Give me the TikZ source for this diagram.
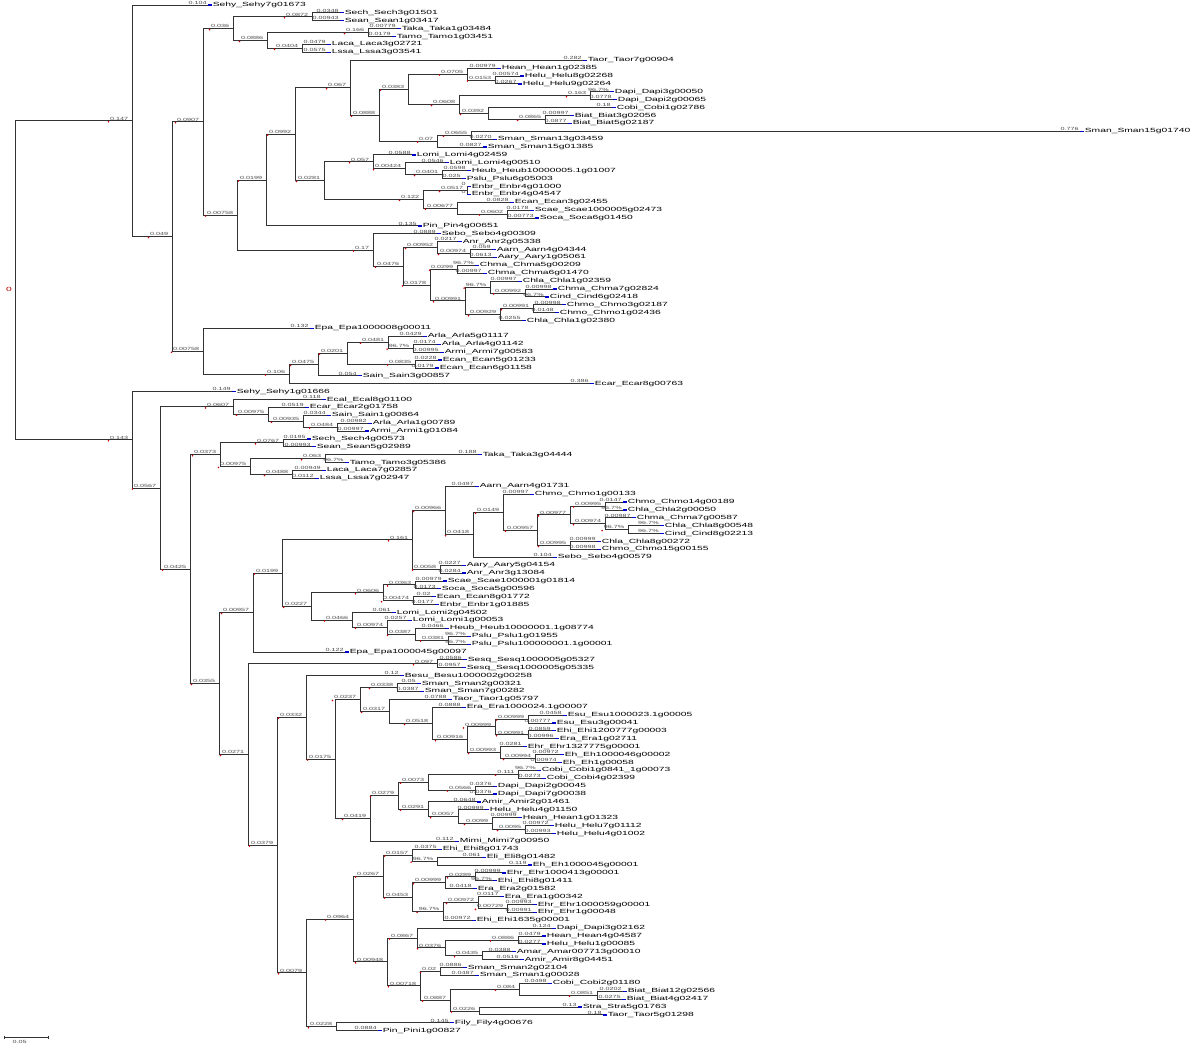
\documentclass[tikz,border=0pt]{standalone}
\usepackage{fontspec}
\newfontfamily\lff[FakeStretch=1.72]{Liberation Sans}
\newfontfamily\bff[FakeStretch=1.6]{Liberation Sans}
\tikzset{
  br/.style={draw=black!80, line width=0.9pt},
  bx/.style={anchor=south east, inner sep=0.3pt, text=black!70, font=\bff\fontsize{4.5}{5}\selectfont},
  bl/.style={bx, xshift=-0.6pt},
  ib/.style={bx, xshift=-3pt, label={[rdot]south west:{}}},
  rdot/.style={circle, fill=red!80!black, inner sep=0pt, minimum size=1.8pt},
  leaf/.style={anchor=west, inner sep=0.6pt, font=\lff\fontsize{6}{6}\selectfont, label={[bmark]west:{}}},
  bmark/.style={rectangle, fill=blue!80!black, inner sep=0pt, minimum width=4pt, minimum height=1.2pt},
}
\begin{document}
\begin{tikzpicture}[x=1pt, y=-7.89pt]
\useasboundingbox (0,-0.634) rectangle (1200,132.19);
% inner nodes, upper clade
\coordinate (r) at (15,34.89);
\coordinate (u0) at (132,14.675);
\coordinate (u1) at (172,29.35);
\coordinate (u2) at (203,14.81);
\coordinate (u3) at (233,3);
\coordinate (u4) at (312,1.5);
\coordinate (u5) at (267,4.5);
\coordinate (u6) at (368,3.5);
\coordinate (u7) at (302,5.5);
\coordinate (u8) at (237,26.62);
\coordinate (u9) at (266,22.18);
\coordinate (u10) at (295,16.37);
\coordinate (u11) at (350,10.48);
\coordinate (u12) at (379,13.97);
\coordinate (u13) at (408,10.69);
\coordinate (u14) at (467,8.75);
\coordinate (u15) at (495,9.5);
\coordinate (u16) at (459,12.625);
\coordinate (u17) at (590,11.5);
\coordinate (u18) at (488,13.75);
\coordinate (u19) at (545,14.5);
\coordinate (u20) at (437,17.25);
\coordinate (u21) at (471,16.5);
\coordinate (u22) at (324,22.25);
\coordinate (u23) at (373,19.875);
\coordinate (u24) at (405,20.75);
\coordinate (u25) at (442,21.5);
\coordinate (u26) at (423,24.625);
\coordinate (u27) at (467,23.5);
\coordinate (u28) at (457,25.75);
\coordinate (u29) at (507,26.5);
\coordinate (u30) at (373,31.06);
\coordinate (u31) at (403,33.125);
\coordinate (u32) at (437,30.75);
\coordinate (u33) at (470,31.5);
\coordinate (u34) at (430,35.5);
\coordinate (u35) at (457,33.5);
\coordinate (u36) at (465,37.5);
\coordinate (u37) at (490,35.75);
\coordinate (u38) at (525,36.5);
\coordinate (u39) at (500,39.25);
\coordinate (u40) at (533,38.5);
\coordinate (u41) at (203,43.89);
\coordinate (u42) at (289,46.78);
\coordinate (u43) at (318,45.56);
\coordinate (u44) at (347,44.125);
\coordinate (u45) at (388,42.75);
\coordinate (u46) at (413,43.5);
\coordinate (u47) at (415,45.5);
% leaves, upper clade
\node[leaf] (a0) at (212,0) {Sehy\_Sehy7g01673};
\node[leaf] (a1) at (344,1) {Sech\_Sech3g01501};
\node[leaf] (a2) at (344,2) {Sean\_Sean1g03417};
\node[leaf] (a3) at (401,3) {Taka\_Taka1g03484};
\node[leaf] (a4) at (396,4) {Tamo\_Tamo1g03451};
\node[leaf] (a5) at (331,5) {Laca\_Laca3g02721};
\node[leaf] (a6) at (331,6) {Lssa\_Lssa3g03541};
\node[leaf] (a7) at (587,7) {Taor\_Taor7g00904};
\node[leaf] (a8) at (501,8) {Hean\_Hean1g02385};
\node[leaf] (a9) at (524,9) {Helu\_Helu8g02268};
\node[leaf] (a10) at (522,10) {Helu\_Helu9g02264};
\node[leaf] (a11) at (614,11) {Dapi\_Dapi3g00050};
\node[leaf] (a12) at (617,12) {Dapi\_Dapi2g00065};
\node[leaf] (a13) at (616,13) {Cobi\_Cobi1g02786};
\node[leaf] (a14) at (574,14) {Biat\_Biat3g02056};
\node[leaf] (a15) at (572,15) {Biat\_Biat5g02187};
\node[leaf] (a16) at (1084,16) {Sman\_Sman15g01740};
\node[leaf] (a17) at (497,17) {Sman\_Sman13g03459};
\node[leaf] (a18) at (487,18) {Sman\_Sman15g01385};
\node[leaf] (a19) at (416,19) {Lomi\_Lomi4g02459};
\node[leaf] (a20) at (449,20) {Lomi\_Lomi4g00510};
\node[leaf] (a21) at (471,21) {Heub\_Heub10000005.1g01007};
\node[leaf] (a22) at (466,22) {Pslu\_Pslu6g05003};
\node[leaf] (a23) at (471,23) {Enbr\_Enbr4g01000};
\node[leaf] (a24) at (471,24) {Enbr\_Enbr4g04547};
\node[leaf] (a25) at (514,25) {Ecan\_Ecan3g02455};
\node[leaf] (a26) at (534,26) {Scae\_Scae1000005g02473};
\node[leaf] (a27) at (539,27) {Soca\_Soca6g01450};
\node[leaf] (a28) at (422,28) {Pin\_Pin4g00651};
\node[leaf] (a29) at (441,29) {Sebo\_Sebo4g00309};
\node[leaf] (a30) at (462,30) {Anr\_Anr2g05338};
\node[leaf] (a31) at (496,31) {Aarn\_Aarn4g04344};
\node[leaf] (a32) at (497,32) {Aary\_Aary1g05061};
\node[leaf] (a33) at (479,33) {Chma\_Chma5g00209};
\node[leaf] (a34) at (487,34) {Chma\_Chma6g01470};
\node[leaf] (a35) at (522,35) {Chla\_Chla1g02359};
\node[leaf] (a36) at (557,36) {Chma\_Chma7g02824};
\node[leaf] (a37) at (549,37) {Cind\_Cind6g02418};
\node[leaf] (a38) at (566,38) {Chmo\_Chmo3g02187};
\node[leaf] (a39) at (559,39) {Chmo\_Chmo1g02436};
\node[leaf] (a40) at (526,40) {Chla\_Chla1g02380};
\node[leaf] (a41) at (314,41) {Epa\_Epa1000008g00011};
\node[leaf] (a42) at (427,42) {Arla\_Arla5g01117};
\node[leaf] (a43) at (441,43) {Arla\_Arla4g01142};
\node[leaf] (a44) at (444,44) {Armi\_Armi7g00583};
\node[leaf] (a45) at (442,45) {Ecan\_Ecan5g01233};
\node[leaf] (a46) at (439,46) {Ecan\_Ecan6g01158};
\node[leaf] (a47) at (362,47) {Sain\_Sain3g00857};
\node[leaf] (a48) at (594,48) {Ecar\_Ecar8g00763};
% branches, upper clade
\draw[br] (r) |- (u0) node[ib] {0.147};
\draw[br] (u0) |- ([xshift=-4pt]a0.west) node[bl] {0.104} (u0) |- (u1) node[ib] {0.049};
\draw[br] (u1) |- (u2) node[ib] {0.0907} (u1) |- (u41) node[ib] {0.00758};
\draw[br] (u2) |- (u3) node[ib] {0.036} (u2) |- (u8) node[ib] {0.00758};
\draw[br] (u3) |- (u4) node[ib] {0.0872} (u3) |- (u5) node[ib] {0.0886};
\draw[br] (u4) |- ([xshift=-4pt]a1.west) node[bl] {0.0348} (u4) |- ([xshift=-4pt]a2.west) node[bl] {0.00943};
\draw[br] (u5) |- (u6) node[ib] {0.166} (u5) |- (u7) node[ib] {0.0404};
\draw[br] (u6) |- ([xshift=-4pt]a3.west) node[bl] {0.00779} (u6) |- ([xshift=-4pt]a4.west) node[bl] {0.0179};
\draw[br] (u7) |- ([xshift=-4pt]a5.west) node[bl] {0.0479} (u7) |- ([xshift=-4pt]a6.west) node[bl] {0.0575};
\draw[br] (u8) |- (u9) node[ib] {0.0199} (u8) |- (u30) node[ib] {0.17};
\draw[br] (u9) |- (u10) node[ib] {0.0992} (u9) |- ([xshift=-4pt]a28.west) node[bl] {0.135};
\draw[br] (u10) |- (u11) node[ib] {0.067} (u10) |- (u22) node[ib] {0.0281};
\draw[br] (u11) |- ([xshift=-4pt]a7.west) node[bl] {0.282} (u11) |- (u12) node[ib] {0.0888};
\draw[br] (u12) |- (u13) node[ib] {0.0383} (u12) |- (u20) node[ib] {0.07};
\draw[br] (u13) |- (u14) node[ib] {0.0705} (u13) |- (u16) node[ib] {0.0608};
\draw[br] (u14) |- ([xshift=-4pt]a8.west) node[bl] {0.00979} (u14) |- (u15) node[ib] {0.0153};
\draw[br] (u15) |- ([xshift=-4pt]a9.west) node[bl] {0.00574} (u15) |- ([xshift=-4pt]a10.west) node[bl] {0.0267};
\draw[br] (u16) |- (u17) node[ib] {0.163} (u16) |- (u18) node[ib] {0.0392};
\draw[br] (u17) |- ([xshift=-4pt]a11.west) node[bl] {96.7\%} (u17) |- ([xshift=-4pt]a12.west) node[bl] {0.0778};
\draw[br] (u18) |- ([xshift=-4pt]a13.west) node[bl] {0.18} (u18) |- (u19) node[ib] {0.0865};
\draw[br] (u19) |- ([xshift=-4pt]a14.west) node[bl] {0.00997} (u19) |- ([xshift=-4pt]a15.west) node[bl] {0.0877};
\draw[br] (u20) |- (u21) node[ib] {0.0655} (u20) |- ([xshift=-4pt]a18.west) node[bl] {0.0827};
\draw[br] (u21) |- ([xshift=-4pt]a16.west) node[bl] {0.776} (u21) |- ([xshift=-4pt]a17.west) node[bl] {0.0270};
\draw[br] (u22) |- (u23) node[ib] {0.057} (u22) |- (u26) node[ib] {0.122};
\draw[br] (u23) |- ([xshift=-4pt]a19.west) node[bl] {0.0588} (u23) |- (u24) node[ib] {0.00424};
\draw[br] (u24) |- ([xshift=-4pt]a20.west) node[bl] {0.0546} (u24) |- (u25) node[ib] {0.0401};
\draw[br] (u25) |- ([xshift=-4pt]a21.west) node[bl] {0.0598} (u25) |- ([xshift=-4pt]a22.west) node[bl] {0.025};
\draw[br] (u26) |- (u27) node[ib] {0.0517} (u26) |- (u28) node[ib] {0.00677};
\draw[br] (u27) |- ([xshift=-4pt]a23.west) node[bl] {0} (u27) |- ([xshift=-4pt]a24.west) node[bl] {0};
\draw[br] (u28) |- ([xshift=-4pt]a25.west) node[bl] {0.0828} (u28) |- (u29) node[ib] {0.0602};
\draw[br] (u29) |- ([xshift=-4pt]a26.west) node[bl] {0.0178} (u29) |- ([xshift=-4pt]a27.west) node[bl] {0.00773};
\draw[br] (u30) |- ([xshift=-4pt]a29.west) node[bl] {0.0889} (u30) |- (u31) node[ib] {0.0476};
\draw[br] (u31) |- (u32) node[ib] {0.00952} (u31) |- (u34) node[ib] {0.0178};
\draw[br] (u32) |- ([xshift=-4pt]a30.west) node[bl] {0.0217} (u32) |- (u33) node[ib] {0.00974};
\draw[br] (u33) |- ([xshift=-4pt]a31.west) node[bl] {0.059} (u33) |- ([xshift=-4pt]a32.west) node[bl] {0.0613};
\draw[br] (u34) |- (u35) node[ib] {0.0299} (u34) |- (u36) node[ib] {0.00991};
\draw[br] (u35) |- ([xshift=-4pt]a33.west) node[bl] {96.7\%} (u35) |- ([xshift=-4pt]a34.west) node[bl] {0.00997};
\draw[br] (u36) |- (u37) node[ib] {96.7\%} (u36) |- (u39) node[ib] {0.00929};
\draw[br] (u37) |- ([xshift=-4pt]a35.west) node[bl] {0.00997} (u37) |- (u38) node[ib] {0.00992};
\draw[br] (u38) |- ([xshift=-4pt]a36.west) node[bl] {0.00998} (u38) |- ([xshift=-4pt]a37.west) node[bl] {96.7\%};
\draw[br] (u39) |- (u40) node[ib] {0.00991} (u39) |- ([xshift=-4pt]a40.west) node[bl] {0.0255};
\draw[br] (u40) |- ([xshift=-4pt]a38.west) node[bl] {0.00998} (u40) |- ([xshift=-4pt]a39.west) node[bl] {0.0148};
\draw[br] (u41) |- ([xshift=-4pt]a41.west) node[bl] {0.132} (u41) |- (u42) node[ib] {0.106};
\draw[br] (u42) |- (u43) node[ib] {0.0475} (u42) |- ([xshift=-4pt]a48.west) node[bl] {0.386};
\draw[br] (u43) |- (u44) node[ib] {0.0201} (u43) |- ([xshift=-4pt]a47.west) node[bl] {0.054};
\draw[br] (u44) |- (u45) node[ib] {0.0481} (u44) |- (u47) node[ib] {0.0835};
\draw[br] (u45) |- ([xshift=-4pt]a42.west) node[bl] {0.0429} (u45) |- (u46) node[ib] {96.7\%};
\draw[br] (u46) |- ([xshift=-4pt]a43.west) node[bl] {0.0174} (u46) |- ([xshift=-4pt]a44.west) node[bl] {0.00995};
\draw[br] (u47) |- ([xshift=-4pt]a45.west) node[bl] {0.0228} (u47) |- ([xshift=-4pt]a46.west) node[bl] {0.0179};
% inner nodes, lower clade
\coordinate (l0) at (132,55.11);
\coordinate (l1) at (160,61.22);
\coordinate (l2) at (233,50.94);
\coordinate (l3) at (268,51.875);
\coordinate (l4) at (303,52.75);
\coordinate (l5) at (337,53.5);
\coordinate (l6) at (190,71.5);
\coordinate (l7) at (220,57);
\coordinate (l8) at (283,55.5);
\coordinate (l9) at (250,58.5);
\coordinate (l10) at (325,57.5);
\coordinate (l11) at (292,59.5);
\coordinate (l12) at (219,86.0);
\coordinate (l13) at (253,77.0);
\coordinate (l14) at (282,72.0);
\coordinate (l15) at (412,67.79);
\coordinate (l16) at (445,64.07);
\coordinate (l17) at (473,67.14);
\coordinate (l18) at (503,64.28);
\coordinate (l19) at (537,66.56);
\coordinate (l20) at (570,64.625);
\coordinate (l21) at (605,63.5);
\coordinate (l22) at (605,65.75);
\coordinate (l23) at (628,66.5);
\coordinate (l24) at (570,68.5);
\coordinate (l25) at (440,71.5);
\coordinate (l26) at (311,76.22);
\coordinate (l27) at (383,74.5);
\coordinate (l28) at (415,73.5);
\coordinate (l29) at (413,75.5);
\coordinate (l30) at (352,77.94);
\coordinate (l31) at (387,78.875);
\coordinate (l32) at (415,79.75);
\coordinate (l33) at (448,80.5);
\coordinate (l34) at (248,94.99);
\coordinate (l35) at (437,83.5);
\coordinate (l36) at (277,106.48);
\coordinate (l37) at (306,90.28);
\coordinate (l38) at (335,95.56);
\coordinate (l39) at (360,88.02);
\coordinate (l40) at (397,86.5);
\coordinate (l41) at (389,89.53);
\coordinate (l42) at (432,91.06);
\coordinate (l43) at (467,93.125);
\coordinate (l44) at (495,91.5);
\coordinate (l45) at (528,90.5);
\coordinate (l46) at (528,92.5);
\coordinate (l47) at (500,94.75);
\coordinate (l48) at (535,95.5);
\coordinate (l49) at (370,103.11);
\coordinate (l50) at (398,100.22);
\coordinate (l51) at (428,98.5);
\coordinate (l52) at (518,97.5);
\coordinate (l53) at (475,99.5);
\coordinate (l54) at (428,101.94);
\coordinate (l55) at (458,102.875);
\coordinate (l56) at (492,103.75);
\coordinate (l57) at (525,104.5);
\coordinate (l58) at (306,122.67);
\coordinate (l59) at (353,115.85);
\coordinate (l60) at (383,110.41);
\coordinate (l61) at (412,107.75);
\coordinate (l62) at (437,108.5);
\coordinate (l63) at (412,113.06);
\coordinate (l64) at (445,111.25);
\coordinate (l65) at (475,110.5);
\coordinate (l66) at (443,114.875);
\coordinate (l67) at (478,113.75);
\coordinate (l68) at (507,114.5);
\coordinate (l69) at (387,121.28);
\coordinate (l70) at (417,118.25);
\coordinate (l71) at (445,119.5);
\coordinate (l72) at (518,118.5);
\coordinate (l73) at (482,120.5);
\coordinate (l74) at (420,124.31);
\coordinate (l75) at (440,122.5);
\coordinate (l76) at (450,126.125);
\coordinate (l77) at (519,124.75);
\coordinate (l78) at (597,125.5);
\coordinate (l79) at (479,127.5);
\coordinate (l80) at (336,129.5);
% leaves, lower clade
\node[leaf] (b49) at (236,49) {Sehy\_Sehy1g01666};
\node[leaf] (b50) at (326,50) {Ecal\_Ecal8g01100};
\node[leaf] (b51) at (309,51) {Ecar\_Ecar2g01758};
\node[leaf] (b52) at (331,52) {Sain\_Sain1g00864};
\node[leaf] (b53) at (372,53) {Arla\_Arla1g00789};
\node[leaf] (b54) at (369,54) {Armi\_Armi1g01084};
\node[leaf] (b55) at (311,55) {Sech\_Sech4g00573};
\node[leaf] (b56) at (316,56) {Sean\_Sean5g02989};
\node[leaf] (b57) at (482,57) {Taka\_Taka3g04444};
\node[leaf] (b58) at (349,58) {Tamo\_Tamo3g05386};
\node[leaf] (b59) at (326,59) {Laca\_Laca7g02857};
\node[leaf] (b60) at (319,60) {Lssa\_Lssa7g02947};
\node[leaf] (b61) at (479,61) {Aarn\_Aarn4g01731};
\node[leaf] (b62) at (534,62) {Chmo\_Chmo1g00133};
\node[leaf] (b63) at (627,63) {Chmo\_Chmo14g00189};
\node[leaf] (b64) at (627,64) {Chla\_Chla2g00050};
\node[leaf] (b65) at (636,65) {Chma\_Chma7g00587};
\node[leaf] (b66) at (664,66) {Chla\_Chla8g00548};
\node[leaf] (b67) at (664,67) {Cind\_Cind8g02213};
\node[leaf] (b68) at (601,68) {Chla\_Chla8g00272};
\node[leaf] (b69) at (601,69) {Chmo\_Chmo15g00155};
\node[leaf] (b70) at (557,70) {Sebo\_Sebo4g00579};
\node[leaf] (b71) at (466,71) {Aary\_Aary5g04154};
\node[leaf] (b72) at (466,72) {Anr\_Anr3g13084};
\node[leaf] (b73) at (447,73) {Scae\_Scae1000001g01814};
\node[leaf] (b74) at (441,74) {Soca\_Soca5g00596};
\node[leaf] (b75) at (436,75) {Ecan\_Ecan8g01772};
\node[leaf] (b76) at (439,76) {Enbr\_Enbr1g01885};
\node[leaf] (b77) at (396,77) {Lomi\_Lomi2g04502};
\node[leaf] (b78) at (412,78) {Lomi\_Lomi1g00053};
\node[leaf] (b79) at (449,79) {Heub\_Heub10000001.1g08774};
\node[leaf] (b80) at (471,80) {Pslu\_Pslu1g01955};
\node[leaf] (b81) at (471,81) {Pslu\_Pslu100000001.1g00001};
\node[leaf] (b82) at (349,82) {Epa\_Epa1000045g00097};
\node[leaf] (b83) at (467,83) {Sesq\_Sesq1000005g05327};
\node[leaf] (b84) at (466,84) {Sesq\_Sesq1000005g05335};
\node[leaf] (b85) at (404,85) {Besu\_Besu1000002g00258};
\node[leaf] (b86) at (421,86) {Sman\_Sman2g00321};
\node[leaf] (b87) at (424,87) {Sman\_Sman7g00282};
\node[leaf] (b88) at (452,88) {Taor\_Taor1g05797};
\node[leaf] (b89) at (466,89) {Era\_Era1000024.1g00007};
\node[leaf] (b90) at (567,90) {Esu\_Esu1000023.1g00005};
\node[leaf] (b91) at (556,91) {Esu\_Esu3g00041};
\node[leaf] (b92) at (556,92) {Ehi\_Ehi1200777g00003};
\node[leaf] (b93) at (559,93) {Era\_Era1g02711};
\node[leaf] (b94) at (527,94) {Ehr\_Ehr1327775g00001};
\node[leaf] (b95) at (564,95) {Eh\_Eh1000046g00002};
\node[leaf] (b96) at (562,96) {Eh\_Eh1g00058};
\node[leaf] (b97) at (541,97) {Cobi\_Cobi1g0841\_1g00073};
\node[leaf] (b98) at (546,98) {Cobi\_Cobi4g02399};
\node[leaf] (b99) at (497,99) {Dapi\_Dapi2g00045};
\node[leaf] (b100) at (497,100) {Dapi\_Dapi7g00038};
\node[leaf] (b101) at (481,101) {Amir\_Amir2g01461};
\node[leaf] (b102) at (489,102) {Helu\_Helu4g01150};
\node[leaf] (b103) at (522,103) {Hean\_Hean1g01323};
\node[leaf] (b104) at (554,104) {Helu\_Helu7g01112};
\node[leaf] (b105) at (556,105) {Helu\_Helu4g01002};
\node[leaf] (b106) at (459,106) {Mimi\_Mimi7g00950};
\node[leaf] (b107) at (442,107) {Ehi\_Ehi8g01743};
\node[leaf] (b108) at (486,108) {Eli\_Eli8g01482};
\node[leaf] (b109) at (532,109) {Eh\_Eh1000045g00001};
\node[leaf] (b110) at (506,110) {Ehr\_Ehr1000413g00001};
\node[leaf] (b111) at (497,111) {Ehi\_Ehi8g01411};
\node[leaf] (b112) at (477,112) {Era\_Era2g01582};
\node[leaf] (b113) at (504,113) {Era\_Era1g00342};
\node[leaf] (b114) at (537,114) {Ehr\_Ehr1000059g00001};
\node[leaf] (b115) at (537,115) {Ehr\_Ehr1g00048};
\node[leaf] (b116) at (476,116) {Ehi\_Ehi1635g00001};
\node[leaf] (b117) at (556,117) {Dapi\_Dapi3g02162};
\node[leaf] (b118) at (546,118) {Hean\_Hean4g04587};
\node[leaf] (b119) at (546,119) {Helu\_Helu1g00085};
\node[leaf] (b120) at (516,120) {Amar\_Amar007713g00010};
\node[leaf] (b121) at (524,121) {Amir\_Amir8g04451};
\node[leaf] (b122) at (467,122) {Sman\_Sman2g02104};
\node[leaf] (b123) at (479,123) {Sman\_Sman1g00028};
\node[leaf] (b124) at (552,124) {Cobi\_Cobi2g01180};
\node[leaf] (b125) at (627,125) {Biat\_Biat12g02566};
\node[leaf] (b126) at (626,126) {Biat\_Biat4g02417};
\node[leaf] (b127) at (582,127) {Stra\_Stra5g01763};
\node[leaf] (b128) at (607,128) {Taor\_Taor5g01298};
\node[leaf] (b129) at (454,129) {Fily\_Fily4g00676};
\node[leaf] (b130) at (382,130) {Pin\_Pini1g00827};
% branches, lower clade
\draw[br] (r) |- (l0) node[ib] {0.143};
\draw[br] (l0) |- ([xshift=-4pt]b49.west) node[bl] {0.149} (l0) |- (l1) node[ib] {0.0567};
\draw[br] (l1) |- (l2) node[ib] {0.0607} (l1) |- (l6) node[ib] {0.0425};
\draw[br] (l2) |- ([xshift=-4pt]b50.west) node[bl] {0.118} (l2) |- (l3) node[ib] {0.00975};
\draw[br] (l3) |- ([xshift=-4pt]b51.west) node[bl] {0.0519} (l3) |- (l4) node[ib] {0.00935};
\draw[br] (l4) |- ([xshift=-4pt]b52.west) node[bl] {0.0344} (l4) |- (l5) node[ib] {0.0484};
\draw[br] (l5) |- ([xshift=-4pt]b53.west) node[bl] {0.00982} (l5) |- ([xshift=-4pt]b54.west) node[bl] {0.00997};
\draw[br] (l6) |- (l7) node[ib] {0.0373} (l6) |- (l12) node[ib] {0.0355};
\draw[br] (l7) |- (l8) node[ib] {0.0767} (l7) |- (l9) node[ib] {0.00975};
\draw[br] (l8) |- ([xshift=-4pt]b55.west) node[bl] {0.0195} (l8) |- ([xshift=-4pt]b56.west) node[bl] {0.00993};
\draw[br] (l9) |- (l10) node[ib] {0.063} (l9) |- (l11) node[ib] {0.0488};
\draw[br] (l10) |- ([xshift=-4pt]b57.west) node[bl] {0.188} (l10) |- ([xshift=-4pt]b58.west) node[bl] {96.7\%};
\draw[br] (l11) |- ([xshift=-4pt]b59.west) node[bl] {0.00949} (l11) |- ([xshift=-4pt]b60.west) node[bl] {0.0112};
\draw[br] (l12) |- (l13) node[ib] {0.00957} (l12) |- (l34) node[ib] {0.0271};
\draw[br] (l13) |- (l14) node[ib] {0.0199} (l13) |- ([xshift=-4pt]b82.west) node[bl] {0.122};
\draw[br] (l14) |- (l15) node[ib] {0.161} (l14) |- (l26) node[ib] {0.0227};
\draw[br] (l15) |- (l16) node[ib] {0.00966} (l15) |- (l25) node[ib] {0.0058};
\draw[br] (l16) |- ([xshift=-4pt]b61.west) node[bl] {0.0497} (l16) |- (l17) node[ib] {0.0418};
\draw[br] (l17) |- (l18) node[ib] {0.0149} (l17) |- ([xshift=-4pt]b70.west) node[bl] {0.104};
\draw[br] (l18) |- ([xshift=-4pt]b62.west) node[bl] {0.00997} (l18) |- (l19) node[ib] {0.00957};
\draw[br] (l19) |- (l20) node[ib] {0.00977} (l19) |- (l24) node[ib] {0.00995};
\draw[br] (l20) |- (l21) node[ib] {0.00995} (l20) |- (l22) node[ib] {0.00974};
\draw[br] (l21) |- ([xshift=-4pt]b63.west) node[bl] {0.0147} (l21) |- ([xshift=-4pt]b64.west) node[bl] {96.7\%};
\draw[br] (l22) |- ([xshift=-4pt]b65.west) node[bl] {0.00987} (l22) |- (l23) node[ib] {96.7\%};
\draw[br] (l23) |- ([xshift=-4pt]b66.west) node[bl] {96.7\%} (l23) |- ([xshift=-4pt]b67.west) node[bl] {96.7\%};
\draw[br] (l24) |- ([xshift=-4pt]b68.west) node[bl] {0.00999} (l24) |- ([xshift=-4pt]b69.west) node[bl] {0.00998};
\draw[br] (l25) |- ([xshift=-4pt]b71.west) node[bl] {0.0227} (l25) |- ([xshift=-4pt]b72.west) node[bl] {0.0284};
\draw[br] (l26) |- (l27) node[ib] {0.0606} (l26) |- (l30) node[ib] {0.0466};
\draw[br] (l27) |- (l28) node[ib] {0.0363} (l27) |- (l29) node[ib] {0.00474};
\draw[br] (l28) |- ([xshift=-4pt]b73.west) node[bl] {0.00979} (l28) |- ([xshift=-4pt]b74.west) node[bl] {0.0173};
\draw[br] (l29) |- ([xshift=-4pt]b75.west) node[bl] {0.02} (l29) |- ([xshift=-4pt]b76.west) node[bl] {0.0177};
\draw[br] (l30) |- ([xshift=-4pt]b77.west) node[bl] {0.061} (l30) |- (l31) node[ib] {0.00974};
\draw[br] (l31) |- ([xshift=-4pt]b78.west) node[bl] {0.0257} (l31) |- (l32) node[ib] {0.0387};
\draw[br] (l32) |- ([xshift=-4pt]b79.west) node[bl] {0.0466} (l32) |- (l33) node[ib] {0.0381};
\draw[br] (l33) |- ([xshift=-4pt]b80.west) node[bl] {96.7\%} (l33) |- ([xshift=-4pt]b81.west) node[bl] {96.7\%};
\draw[br] (l34) |- (l35) node[ib] {0.097} (l34) |- (l36) node[ib] {0.0379};
\draw[br] (l35) |- ([xshift=-4pt]b83.west) node[bl] {0.0586} (l35) |- ([xshift=-4pt]b84.west) node[bl] {0.0957};
\draw[br] (l36) |- (l37) node[ib] {0.0332} (l36) |- (l58) node[ib] {0.0079};
\draw[br] (l37) |- ([xshift=-4pt]b85.west) node[bl] {0.12} (l37) |- (l38) node[ib] {0.0175};
\draw[br] (l38) |- (l39) node[ib] {0.0237} (l38) |- (l49) node[ib] {0.0419};
\draw[br] (l39) |- (l40) node[ib] {0.0338} (l39) |- (l41) node[ib] {0.0317};
\draw[br] (l40) |- ([xshift=-4pt]b86.west) node[bl] {0.05} (l40) |- ([xshift=-4pt]b87.west) node[bl] {0.0387};
\draw[br] (l41) |- ([xshift=-4pt]b88.west) node[bl] {0.0788} (l41) |- (l42) node[ib] {0.0518};
\draw[br] (l42) |- ([xshift=-4pt]b89.west) node[bl] {0.0888} (l42) |- (l43) node[ib] {0.00916};
\draw[br] (l43) |- (l44) node[ib] {0.00999} (l43) |- (l47) node[ib] {0.00993};
\draw[br] (l44) |- (l45) node[ib] {0.00999} (l44) |- (l46) node[ib] {0.00991};
\draw[br] (l45) |- ([xshift=-4pt]b90.west) node[bl] {0.0458} (l45) |- ([xshift=-4pt]b91.west) node[bl] {0.00777};
\draw[br] (l46) |- ([xshift=-4pt]b92.west) node[bl] {0.0859} (l46) |- ([xshift=-4pt]b93.west) node[bl] {0.00996};
\draw[br] (l47) |- ([xshift=-4pt]b94.west) node[bl] {0.0281} (l47) |- (l48) node[ib] {0.00994};
\draw[br] (l48) |- ([xshift=-4pt]b95.west) node[bl] {0.00972} (l48) |- ([xshift=-4pt]b96.west) node[bl] {0.00974};
\draw[br] (l49) |- (l50) node[ib] {0.0279} (l49) |- ([xshift=-4pt]b106.west) node[bl] {0.112};
\draw[br] (l50) |- (l51) node[ib] {0.0073} (l50) |- (l54) node[ib] {0.0291};
\draw[br] (l51) |- (l52) node[ib] {0.111} (l51) |- (l53) node[ib] {0.0566};
\draw[br] (l52) |- ([xshift=-4pt]b97.west) node[bl] {96.7\%} (l52) |- ([xshift=-4pt]b98.west) node[bl] {0.0273};
\draw[br] (l53) |- ([xshift=-4pt]b99.west) node[bl] {0.0376} (l53) |- ([xshift=-4pt]b100.west) node[bl] {0.0376};
\draw[br] (l54) |- ([xshift=-4pt]b101.west) node[bl] {0.0648} (l54) |- (l55) node[ib] {0.0057};
\draw[br] (l55) |- ([xshift=-4pt]b102.west) node[bl] {0.00999} (l55) |- (l56) node[ib] {0.0099};
\draw[br] (l56) |- ([xshift=-4pt]b103.west) node[bl] {0.00999} (l56) |- (l57) node[ib] {0.0095};
\draw[br] (l57) |- ([xshift=-4pt]b104.west) node[bl] {0.00972} (l57) |- ([xshift=-4pt]b105.west) node[bl] {0.00993};
\draw[br] (l58) |- (l59) node[ib] {0.0964} (l58) |- (l80) node[ib] {0.0228};
\draw[br] (l59) |- (l60) node[ib] {0.0267} (l59) |- (l69) node[ib] {0.00948};
\draw[br] (l60) |- (l61) node[ib] {0.0157} (l60) |- (l63) node[ib] {0.0453};
\draw[br] (l61) |- ([xshift=-4pt]b107.west) node[bl] {0.0375} (l61) |- (l62) node[ib] {96.7\%};
\draw[br] (l62) |- ([xshift=-4pt]b108.west) node[bl] {0.061} (l62) |- ([xshift=-4pt]b109.west) node[bl] {0.119};
\draw[br] (l63) |- (l64) node[ib] {0.00999} (l63) |- (l66) node[ib] {96.7\%};
\draw[br] (l64) |- (l65) node[ib] {0.0289} (l64) |- ([xshift=-4pt]b112.west) node[bl] {0.0418};
\draw[br] (l65) |- ([xshift=-4pt]b110.west) node[bl] {0.00999} (l65) |- ([xshift=-4pt]b111.west) node[bl] {96.7\%};
\draw[br] (l66) |- (l67) node[ib] {0.00972} (l66) |- ([xshift=-4pt]b116.west) node[bl] {0.00972};
\draw[br] (l67) |- ([xshift=-4pt]b113.west) node[bl] {0.0117} (l67) |- (l68) node[ib] {0.00729};
\draw[br] (l68) |- ([xshift=-4pt]b114.west) node[bl] {0.00993} (l68) |- ([xshift=-4pt]b115.west) node[bl] {0.00991};
\draw[br] (l69) |- (l70) node[ib] {0.0867} (l69) |- (l74) node[ib] {0.00718};
\draw[br] (l70) |- ([xshift=-4pt]b117.west) node[bl] {0.124} (l70) |- (l71) node[ib] {0.0376};
\draw[br] (l71) |- (l72) node[ib] {0.0886} (l71) |- (l73) node[ib] {0.0435};
\draw[br] (l72) |- ([xshift=-4pt]b118.west) node[bl] {0.0479} (l72) |- ([xshift=-4pt]b119.west) node[bl] {0.0277};
\draw[br] (l73) |- ([xshift=-4pt]b120.west) node[bl] {0.0388} (l73) |- ([xshift=-4pt]b121.west) node[bl] {0.0516};
\draw[br] (l74) |- (l75) node[ib] {0.02} (l74) |- (l76) node[ib] {0.0887};
\draw[br] (l75) |- ([xshift=-4pt]b122.west) node[bl] {0.0886} (l75) |- ([xshift=-4pt]b123.west) node[bl] {0.0487};
\draw[br] (l76) |- (l77) node[ib] {0.084} (l76) |- (l79) node[ib] {0.0226};
\draw[br] (l77) |- ([xshift=-4pt]b124.west) node[bl] {0.0498} (l77) |- (l78) node[ib] {0.0851};
\draw[br] (l78) |- ([xshift=-4pt]b125.west) node[bl] {0.0202} (l78) |- ([xshift=-4pt]b126.west) node[bl] {0.0275};
\draw[br] (l79) |- ([xshift=-4pt]b127.west) node[bl] {0.13} (l79) |- ([xshift=-4pt]b128.west) node[bl] {0.18};
\draw[br] (l80) |- ([xshift=-4pt]b129.west) node[bl] {0.145} (l80) |- ([xshift=-4pt]b130.west) node[bl] {0.0884};
% root label and scale
\node[text=red!70!black, font=\lff\fontsize{6}{6}\selectfont] (rl) at (9,36.1) {0};
\coordinate (s1) at (4,130.8);
\coordinate (s2) at (48,130.8);
\draw[black!80, line width=0.7pt] (s1) -- (s2) ([yshift=1.5pt]s1) -- ([yshift=-1.5pt]s1) ([yshift=1.5pt]s2) -- ([yshift=-1.5pt]s2);
\node[font=\bff\fontsize{4.5}{5}\selectfont, text=black!70, anchor=north west, inner sep=0.5pt] (sl) at (12,131.1) {0.05};
\end{tikzpicture}
\end{document}
